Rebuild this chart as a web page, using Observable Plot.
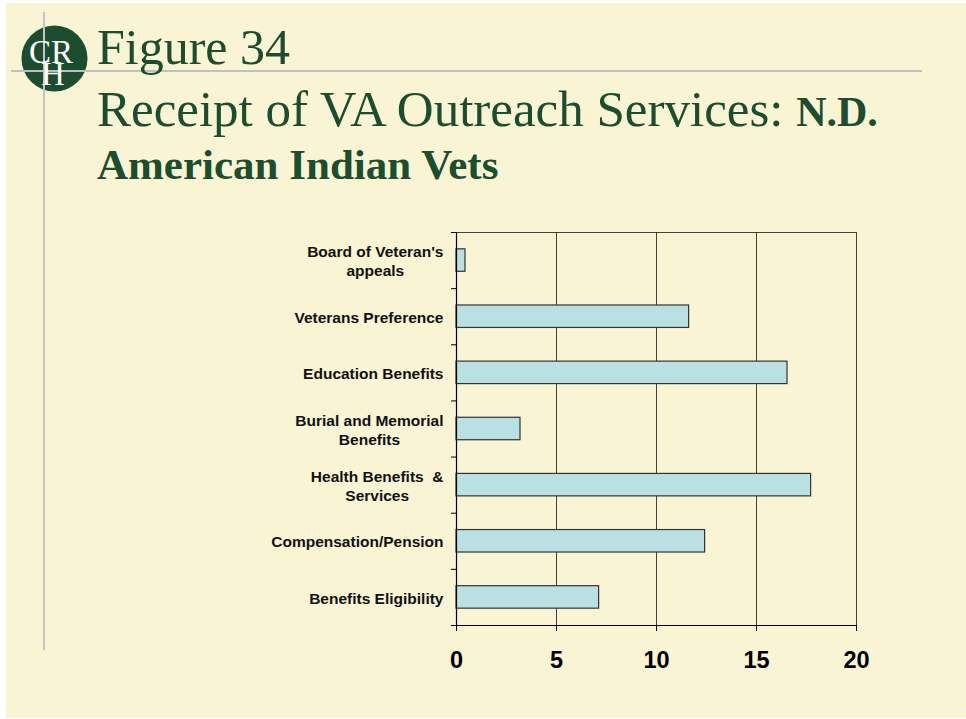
<!DOCTYPE html>
<html>
<head>
<meta charset="utf-8">
<script src="https://cdn.jsdelivr.net/npm/d3@7"></script>
<script src="https://cdn.jsdelivr.net/npm/@observablehq/plot@0.6"></script>
<style>
  html, body { margin: 0; padding: 0; background: #ffffff; width: 966px; height: 719px; overflow: hidden; }
  #slide { position: absolute; left: 6px; top: 3px; width: 960px; height: 715px; background: #F8F4D4; }
  #deco { position: absolute; left: 0; top: 0; }
  #chart { position: absolute; left: 0; top: 0; }
</style>
</head>
<body>
<div id="slide"></div>
<svg id="deco" width="966" height="719">
  <circle cx="54.5" cy="58.5" r="33" fill="#1B4D2E"/>
  <line x1="44" y1="12" x2="44" y2="650" stroke="#c4c4c4" stroke-width="2"/>
  <line x1="11" y1="71" x2="922" y2="71" stroke="#c0c0c0" stroke-width="2"/>
  <text x="29" y="62.5" font-family="Liberation Serif, Times New Roman, serif" font-size="33" fill="#ffffff">C<tspan x="51">R</tspan><tspan x="41" y="85">H</tspan></text>
  <g font-family="Liberation Serif, Times New Roman, serif" fill="#1B4D2E">
    <text x="97" y="64" font-size="50">Figure 34</text>
    <text x="97" y="126" font-size="51">Receipt of VA Outreach Services: <tspan font-weight="bold" font-size="42">N.D.</tspan></text>
    <text x="97" y="179" font-size="43" font-weight="bold">American Indian Vets</text>
  </g>
</svg>
<div id="chart"></div>
<script>
const categories = [
  "Board of Veteran's\nappeals",
  "Veterans Preference",
  "Education Benefits",
  "Burial and Memorial\nBenefits",
  "Health Benefits  &\nServices",
  "Compensation/Pension",
  "Benefits Eligibility"
];
const values = [0.45, 11.63, 16.55, 3.2, 17.73, 12.43, 7.13];
const xTicks = [0, 5, 10, 15, 20];
const gridValues = [5, 10, 15, 20];

const data = categories.map((c, i) => ({i, category: c, value: values[i]}));
const indices = categories.map((c, i) => i);
const boundaries = [...indices.map(i => i - 0.5), categories.length - 0.5];

const chart = Plot.plot({
  width: 966,
  height: 719,
  marginLeft: 456,
  marginRight: 110,
  marginTop: 232,
  marginBottom: 94,
  style: {background: "transparent", fontFamily: "Liberation Sans, Arial, sans-serif", color: "#000"},
  x: {domain: [0, 20]},
  y: {domain: [-0.5, categories.length - 0.5], reverse: true},
  marks: [
    Plot.ruleX(gridValues, {stroke: "#222", strokeWidth: 1, strokeOpacity: 0.85}),
    Plot.ruleY([-0.5], {stroke: "#222", strokeWidth: 1.2, strokeOpacity: 0.85}),
    Plot.rectX(data, {
      x1: 0, x2: "value",
      y1: d => d.i - 0.2, y2: d => d.i + 0.2,
      fill: "#B9E0E3", stroke: "#333", strokeWidth: 1.2
    }),
    Plot.ruleX([0], {stroke: "#000", strokeWidth: 1.2}),
    Plot.ruleY([categories.length - 0.5], {stroke: "#000", strokeWidth: 1.2}),
    Plot.axisY({ticks: boundaries, tickSize: 5, tickFormat: () => "", stroke: "#000"}),
    Plot.axisY({ticks: indices, tickSize: 0, tickPadding: 13, tickFormat: i => categories[i],
      fontSize: 15.5, fontWeight: "bold", lineHeight: 1.23, fill: "#111", label: null}),
    Plot.axisX({ticks: xTicks, tickSize: 6, tickPadding: 20, tickFormat: d => String(d),
      fontSize: 23.5, fontWeight: "bold", fill: "#000", stroke: "#000", label: null})
  ]
});
document.getElementById("chart").appendChild(chart);

// Centre multi-line category labels within their block (as in the original slide)
chart.querySelectorAll("text").forEach(t => {
  const spans = t.querySelectorAll("tspan");
  if (spans.length > 1) {
    const w = t.getBBox().width;
    t.setAttribute("text-anchor", "middle");
    const cur = t.getAttribute("transform") || "";
    t.setAttribute("transform", cur + ` translate(${-w / 2},0)`);
  }
});
</script>
</body>
</html>
